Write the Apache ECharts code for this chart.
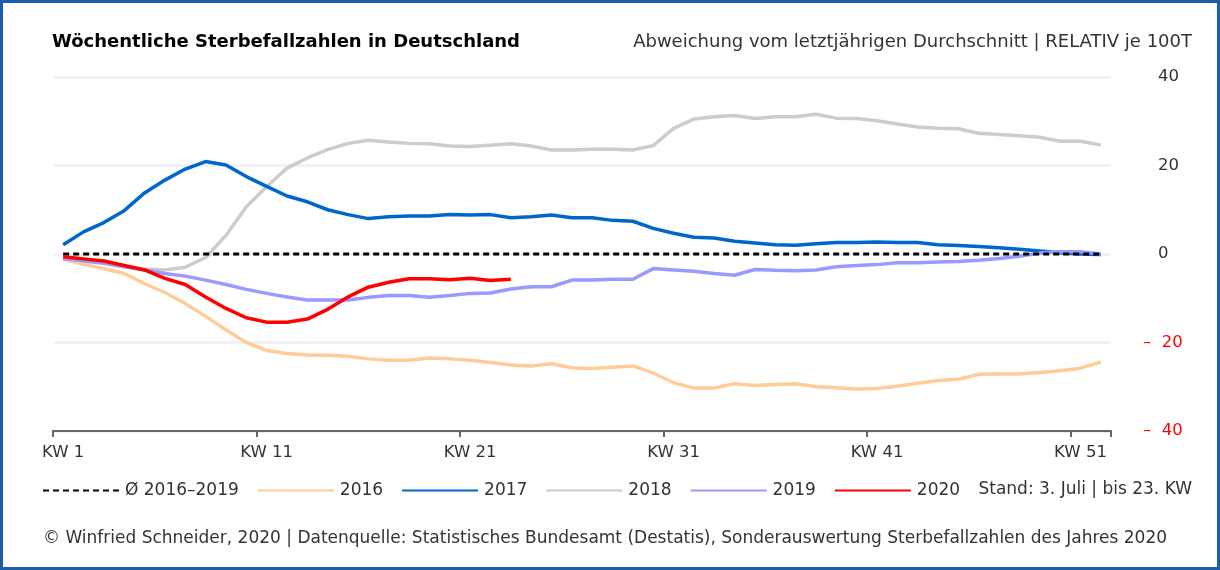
<!DOCTYPE html>
<html>
<head>
<meta charset="utf-8">
<script src="https://cdn.jsdelivr.net/npm/echarts@6/dist/echarts.min.js"></script>
<style>
html,body{margin:0;padding:0;background:#fff;}
#wrap{position:relative;width:1220px;height:570px;}
#chart{position:absolute;left:0;top:0;width:1220px;height:570px;}
#border{position:absolute;left:0;top:0;width:1220px;height:570px;box-sizing:border-box;border:3px solid #1C5DAF;pointer-events:none;}
</style>
</head>
<body>
<div id="wrap"><div id="chart"></div><div id="border"></div></div>
<script>
const categories = ['KW 1','KW 2','KW 3','KW 4','KW 5','KW 6','KW 7','KW 8','KW 9','KW 10',
 'KW 11','KW 12','KW 13','KW 14','KW 15','KW 16','KW 17','KW 18','KW 19','KW 20',
 'KW 21','KW 22','KW 23','KW 24','KW 25','KW 26','KW 27','KW 28','KW 29','KW 30',
 'KW 31','KW 32','KW 33','KW 34','KW 35','KW 36','KW 37','KW 38','KW 39','KW 40',
 'KW 41','KW 42','KW 43','KW 44','KW 45','KW 46','KW 47','KW 48','KW 49','KW 50',
 'KW 51','KW 52'];

const avg2016_2019 = [0,0,0,0,0,0,0,0,0,0, 0,0,0,0,0,0,0,0,0,0, 0,0,0,0,0,0,0,0,0,0,
 0,0,0,0,0,0,0,0,0,0, 0,0,0,0,0,0,0,0,0,0, 0,0];

const y2016 = [-1.2,-2.3,-3.3,-4.4,-6.7,-8.7,-11.2,-14.1,-17.1,-20.0,
 -21.8,-22.5,-22.8,-22.9,-23.1,-23.7,-24.0,-24.0,-23.5,-23.7,
 -24.0,-24.5,-25.1,-25.3,-24.8,-25.7,-25.9,-25.6,-25.3,-26.9,
 -29.1,-30.3,-30.3,-29.3,-29.7,-29.5,-29.3,-30.0,-30.2,-30.5,
 -30.4,-29.9,-29.2,-28.6,-28.3,-27.2,-27.1,-27.1,-26.8,-26.4,
 -25.8,-24.4];

const y2017 = [2.1,5.0,7.1,9.8,13.8,16.7,19.2,20.9,20.1,17.5,
 15.3,13.1,11.8,10.0,8.9,8.0,8.4,8.6,8.6,8.9,
 8.8,8.9,8.2,8.4,8.8,8.2,8.2,7.6,7.4,5.8,
 4.7,3.8,3.6,2.9,2.5,2.1,2.0,2.3,2.6,2.6,
 2.7,2.6,2.6,2.1,1.9,1.7,1.4,1.1,0.7,0.3,
 0.0,-0.1];

const y2018 = [-0.5,-1.2,-2.0,-2.8,-3.4,-3.6,-3.0,-0.8,4.2,10.7,
 15.2,19.4,21.7,23.6,25.0,25.7,25.3,25.0,24.9,24.4,
 24.3,24.6,24.9,24.4,23.5,23.5,23.7,23.7,23.5,24.5,
 28.4,30.5,31.0,31.3,30.6,31.0,31.0,31.6,30.7,30.6,
 30.1,29.4,28.7,28.4,28.3,27.3,27.0,26.7,26.4,25.5,
 25.5,24.6];

const y2019 = [-1.0,-1.6,-2.1,-2.9,-3.6,-4.4,-5.0,-5.9,-6.9,-8.0,
 -8.9,-9.7,-10.4,-10.4,-10.4,-9.8,-9.4,-9.4,-9.8,-9.4,
 -8.9,-8.8,-7.9,-7.4,-7.4,-5.9,-5.9,-5.7,-5.7,-3.3,
 -3.6,-3.9,-4.4,-4.8,-3.5,-3.7,-3.8,-3.6,-2.9,-2.6,
 -2.4,-2.0,-2.0,-1.8,-1.7,-1.4,-1.0,-0.5,0.2,0.5,
 0.5,0.0];

const y2020 = [-0.6,-1.1,-1.6,-2.6,-3.6,-5.5,-6.9,-9.7,-12.3,-14.4,
 -15.4,-15.4,-14.7,-12.5,-9.7,-7.5,-6.4,-5.6,-5.6,-5.8,
 -5.5,-6.0,-5.7];

const yTicks = [-40,-20,0,20,40];

const FONT = 'DejaVu Sans';
const chart = echarts.init(document.getElementById('chart'), null, {renderer:'canvas'});

function lineSeries(name, data, color, z, extra) {
  return Object.assign({
    name: name, type: 'line', data: data, symbol: 'none', showSymbol: false,
    smooth: false, z: z, animation: false,
    lineStyle: {color: color, width: 3.5},
    itemStyle: {color: color}
  }, extra || {});
}

chart.setOption({
  animation: false,
  textStyle: {fontFamily: FONT},
  title: {
    text: 'Wöchentliche Sterbefallzahlen in Deutschland',
    left: 52, top: 33, padding: 0,
    textStyle: {fontFamily: FONT, fontWeight: 'bold', fontSize: 18, color: '#000'}
  },
  grid: {left: 53, right: 109, top: 77, bottom: 139, containLabel: false},
  xAxis: {
    type: 'category', data: categories, boundaryGap: true,
    axisLine: {show: true, onZero: false, lineStyle: {color: '#666', width: 2}},
    axisTick: {show: true, interval: 9, length: 6, alignWithLabel: false, lineStyle: {color: '#666', width: 2}},
    axisLabel: {interval: 9, margin: 13, fontFamily: FONT, fontSize: 16.5, color: '#333'},
    splitLine: {show: false}
  },
  yAxis: {
    type: 'value', position: 'right', min: yTicks[0], max: yTicks[yTicks.length-1], interval: 20,
    axisLine: {show: false}, axisTick: {show: false},
    splitLine: {show: true, lineStyle: {color: '#F1F1FC', width: 3}},
    axisLabel: {
      margin: 32, align: 'left', fontFamily: FONT, fontSize: 16.5,
      formatter: function(v){ return v < 0 ? '{n|–  ' + Math.abs(v) + '}' : '{p|' + v + '}'; },
      rich: {
        p: {color: '#333', fontFamily: FONT, fontSize: 16.5, padding: [0,0,0,15]},
        n: {color: '#FF0000', fontFamily: FONT, fontSize: 16.5}
      }
    }
  },
  legend: {
    left: 42, top: 482, padding: 0, itemWidth: 76, itemHeight: 14, itemGap: 18,
    itemStyle: {opacity: 0},
    textStyle: {fontFamily: FONT, fontSize: 17, color: '#333', padding: [0,0,0,1]},
    data: ['Ø 2016–2019','2016','2017','2018','2019','2020']
  },
  graphic: [
    {type: 'text', right: 28, top: 33, style: {text: 'Abweichung vom letztjährigen Durchschnitt | RELATIV je 100T', font: '18px "DejaVu Sans"', fill: '#333'}},
    {type: 'text', right: 28, top: 481, style: {text: 'Stand: 3. Juli | bis 23. KW', font: '17px "DejaVu Sans"', fill: '#333'}},
    {type: 'text', left: 43, top: 530, style: {text: '© Winfried Schneider, 2020 | Datenquelle: Statistisches Bundesamt (Destatis), Sonderauswertung Sterbefallzahlen des Jahres 2020', font: '17px "DejaVu Sans"', fill: '#333'}}
  ],
  series: [
    lineSeries('2016', y2016, '#FFCC99', 2),
    lineSeries('2017', y2017, '#0066CC', 3),
    lineSeries('2018', y2018, '#CCCCCC', 2),
    lineSeries('2019', y2019, '#9999FF', 4),
    lineSeries('Ø 2016–2019', avg2016_2019, '#000000', 5, {lineStyle: {color: '#000', width: 3, type: [6,4]}}),
    lineSeries('2020', y2020, '#FF0000', 6)
  ]
});
</script>
</body>
</html>
